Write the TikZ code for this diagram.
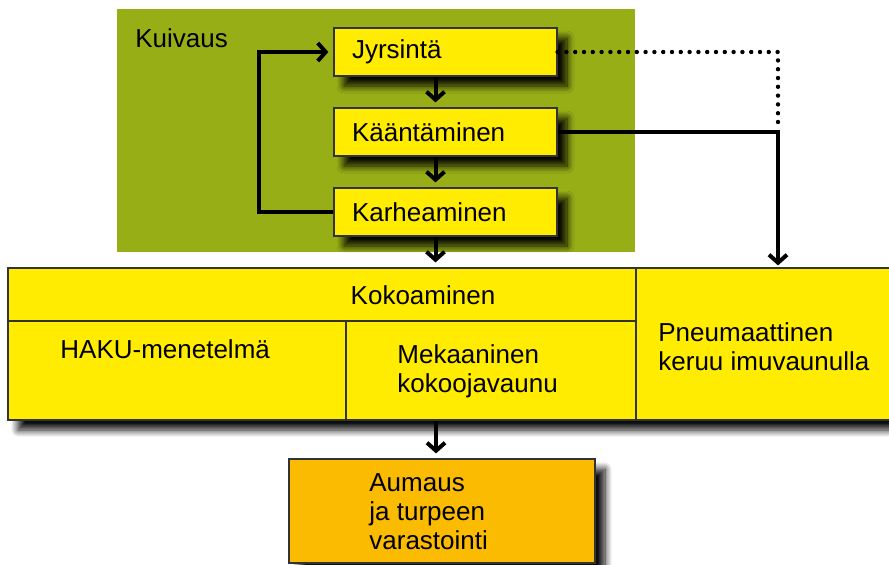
\documentclass[tikz,border=0pt]{standalone}
\usepackage{fontspec}
\setmainfont{Liberation Sans}
\usetikzlibrary{arrows.meta,shadows.blur}

\definecolor{ruoho}{RGB}{152,174,22}
\definecolor{keltainen}{RGB}{255,236,0}
\definecolor{oranssi}{RGB}{250,187,0}

\tikzset{
    varjo/.style={blur shadow={shadow xshift=5pt, shadow yshift=-5pt,
        shadow blur steps=10, shadow blur radius=3.5pt, shadow opacity=95}},
    laatikko/.style={draw=black!80, line width=0.6pt, fill=keltainen, inner sep=0pt},
    vaihe/.style={laatikko, varjo, minimum width=111.5pt, minimum height=24pt,
        text width=93.5pt, inner xsep=9pt, align=left},
    nuoli/.style={line width=2pt, shorten >=2.5pt, -{Straight Barb[length=4pt,width=9pt]}},
    pisteet/.style={line width=2.2pt, line cap=round, dash pattern=on 0pt off 4.4pt},
    teksti/.style={anchor=west, align=left, inner sep=0pt},
}

\begin{document}
\begin{tikzpicture}[x=0.5pt, y=-0.5pt, font=\fontsize{13}{14.5}\selectfont]
    \useasboundingbox (0,0) rectangle (889,564);

    % kuivaus
    \node[fill=ruoho, minimum width=259pt, minimum height=121.5pt, inner sep=0pt] (kuivaus) at (376,130.5) {};
    \node[teksti] (kuivausotsikko) at (135,38) {Kuivaus};
    \node[vaihe] (jyrsinta) at (445.5,52) {Jyrsintä};
    \node[vaihe] (kaantaminen) at (445.5,132) {Kääntäminen};
    \node[vaihe] (karheaminen) at (445.5,212) {Karheaminen};

    % kokoaminen ja keruu
    \node[laatikko, varjo, minimum width=446pt, minimum height=76pt] (keruu) at (454,344) {};
    \node[laatikko, minimum width=314pt, minimum height=26.5pt] (kokoaminen) at (322,294.5) {};
    \node[laatikko, minimum width=169pt, minimum height=49.5pt] (haku) at (177,370.5) {};
    \node[laatikko, minimum width=145pt, minimum height=49.5pt] (mekaaninen) at (491,370.5) {};
    \node[laatikko, minimum width=132pt, minimum height=76pt] (pneumaattinen) at (768,344) {};
    \node[inner sep=0pt] (kokoteksti) at (423,295) {Kokoaminen};
    \node[teksti] (hakuteksti) at (60,349) {HAKU-menetelmä};
    \node[teksti] (mekteksti) at (397,371) {Mekaaninen\\kokoojavaunu};
    \node[teksti] (pneuteksti) at (658,347) {Pneumaattinen\\keruu imuvaunulla};

    % aumaus
    \node[laatikko, fill=oranssi, varjo, minimum width=153pt, minimum height=52pt] (aumaus) at (442,511) {};
    \node[teksti] (aumausteksti) at (369,512) {Aumaus\\ja turpeen\\varastointi};

    % nuolet
    \coordinate (kulma) at (778,130);
    \draw[nuoli] ([xshift=-5pt]jyrsinta.south) -- ([xshift=-5pt]kaantaminen.north);
    \draw[nuoli] ([xshift=-5pt]kaantaminen.south) -- ([xshift=-5pt]karheaminen.north);
    \draw[nuoli] ([xshift=-5pt]karheaminen.south) -- ([xshift=-5pt]karheaminen.south |- keruu.north);
    \draw[nuoli] (karheaminen.west) -- ++(-74,0) |- (jyrsinta.west);
    \draw[pisteet] (jyrsinta.east) -| (kulma);
    \draw[nuoli, shorten >=1pt] (kaantaminen.east) -| (kulma |- keruu.north);
    \draw[nuoli] ([xshift=-3pt]aumaus.north |- keruu.south) -- ([xshift=-3pt]aumaus.north);
\end{tikzpicture}
\end{document}
